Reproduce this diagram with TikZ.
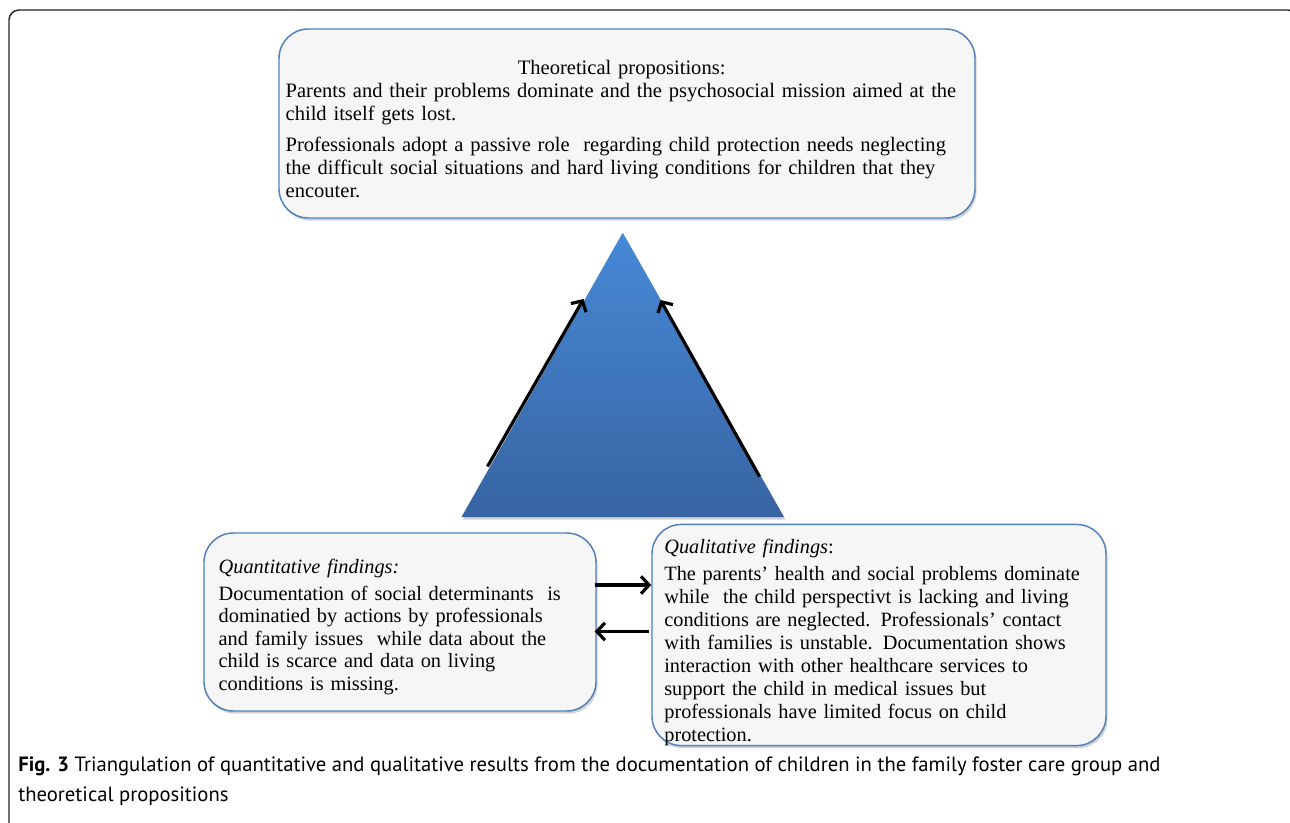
\documentclass[tikz,border=0pt]{standalone}
\usepackage{fontspec}
\setmainfont{Liberation Serif}
\newfontfamily\capfont{PT Sans}
\usetikzlibrary{arrows.meta,shadows}
\definecolor{boxblue}{RGB}{79,129,189}
\definecolor{boxfill}{RGB}{246,246,246}
\definecolor{tritop}{RGB}{70,137,214}
\definecolor{tribot}{RGB}{56,100,162}
\begin{document}
\begin{tikzpicture}[x=0.75pt,y=-0.75pt,
  textbox/.style={draw=boxblue, line width=1.1pt, fill=boxfill, rounded corners=22pt,
    align=left, inner sep=0pt, font=\fontsize{15.25}{16.9}\selectfont,
    drop shadow={opacity=0.35, shadow xshift=1.2pt, shadow yshift=-2pt}},
  arr/.style={line width=2.4pt, -{Straight Barb[length=6pt,width=13pt,line width=2.4pt]}}
]
\useasboundingbox (0,0) rectangle (1290,822);
\fill[white] (0,0) rectangle (1290,822);
\begin{scope}
  \clip (0,0) rectangle (1290,822);
  \draw[line width=1.1pt, rounded corners=7.5pt, draw=black!85] (9,840) -- (9,10) -- (1298,10) -- (1298,840);
\end{scope}

% triangle
\coordinate (apex) at (622.7,232.7);
\coordinate (tl) at (461.5,517);
\coordinate (tr) at (784,517);
\path[top color=tritop, bottom color=tribot,
  drop shadow={opacity=0.35, shadow xshift=1.2pt, shadow yshift=-2pt}]
  (apex) -- (tl) -- (tr) -- cycle;

% arrows on triangle
\coordinate (a1s) at (487.5,466.5);
\coordinate (a1e) at (583.5,299);
\coordinate (a2s) at (759.5,476.5);
\coordinate (a2e) at (660.5,300);
\draw[arr] (a1s) -- (a1e);
\draw[arr] (a2s) -- (a2e);

% top box
\node[textbox, font=\fontsize{15.4}{17.25}\selectfont, minimum width=522pt, minimum height=141.75pt, text width=512pt] (theo) at (627,123.5) {%
\makebox[\linewidth][c]{\rule{0pt}{19pt}\hspace*{-8pt}Theoretical propositions:}\\[0pt]
Parents and their problems dominate and the psychosocial mission aimed at the\\
child itself gets lost.\\[6pt]
Professionals adopt a passive role\ \ regarding child protection needs neglecting\\
the difficult social situations and hard living conditions for children that they\\
encouter.};

% bottom left box
\node[textbox, minimum width=294pt, minimum height=133.5pt, text width=272pt] (quan) at (400,622) {%
\rule{0pt}{18pt}\textit{Quantitative findings:}\\[3pt]
Documentation of social determinants\ \ is\\
dominatied by actions by professionals\\
and family issues\ \ while data about the\\
child is scarce and data on living\\
conditions is missing.};

% bottom right box
\node[textbox, font=\fontsize{15.25}{17.2}\selectfont, minimum width=340.5pt, minimum height=165pt, text width=322pt] (qual) at (879,635) {%
\rule{0pt}{22pt}\textit{Qualitative findings}:\\[3pt]
The parents' health and social problems dominate\\
while\ \ the child perspectivt is lacking and living\\
conditions are neglected. Professionals' contact\\
with families is unstable. Documentation shows\\
interaction with other healthcare services to\\
support the child in medical issues but\\
professionals have limited focus on child\\
protection.};

% horizontal arrows
\coordinate (h1) at (0,585);
\coordinate (h2) at (0,631.5);
\draw[arr] ([xshift=-1.5pt]quan.east |- h1) -- (qual.west |- h1);
\draw[arr] ([xshift=-2pt]qual.west |- h2) -- ([xshift=-1.5pt]quan.east |- h2);

% caption
\node[anchor=north west, inner sep=0pt, align=left,
  font=\capfont\fontsize{15.5}{22.5}\selectfont] (cap) at (18,757)
  {\textbf{Fig. 3} Triangulation of quantitative and qualitative results from the documentation of children in the family foster care group and\\
   theoretical propositions};
\end{tikzpicture}
\end{document}
